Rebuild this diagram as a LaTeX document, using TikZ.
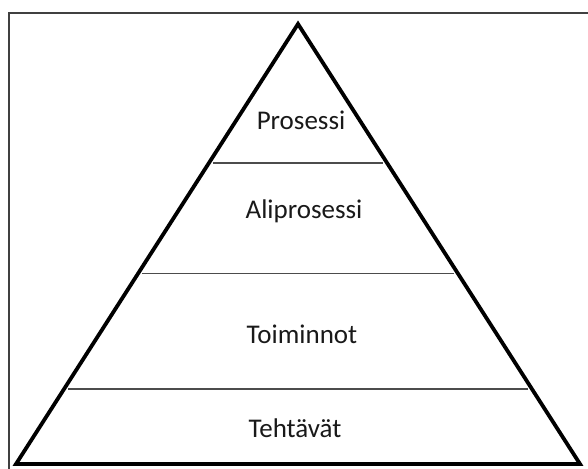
\documentclass[tikz,border=0pt]{standalone}
\usepackage{fontspec}
\setmainfont{Carlito}
\usetikzlibrary{calc}

\begin{document}
\begin{tikzpicture}[x=1pt,y=-1pt,
    level/.style={font=\fontsize{27}{32}\selectfont,text=black!90},
    sep/.style={line width=1.8pt,black!70}]
    \useasboundingbox (0,0) rectangle (588,468);
    \clip (0,0) rectangle (588,468);
    \draw[line width=2pt,black!75](9,13) rectangle (600,480);
    \coordinate (T) at (298,24);
    \coordinate (L) at (16,464);
    \coordinate (R) at (580,464);
    \draw[line width=3.8pt](T)--(L)--(R)--cycle;
    \foreach \t/\n in {.316/a,.567/b,.829/c}{
        \coordinate (\n l) at ($(T)!\t!(L)+(4,0)$);
        \coordinate (\n r) at ($(T)!\t!(R)-(4,0)$);
        \draw[sep](\n l)--(\n r);
    }
    \node[level] (pro) at (301,120) {Prosessi};
    \node[level] (ali) at (304,211) {Aliprosessi};
    \node[level] (toi) at (302,334) {Toiminnot};
    \node[level] (teh) at (295,428) {Tehtävät};
\end{tikzpicture}
\end{document}
